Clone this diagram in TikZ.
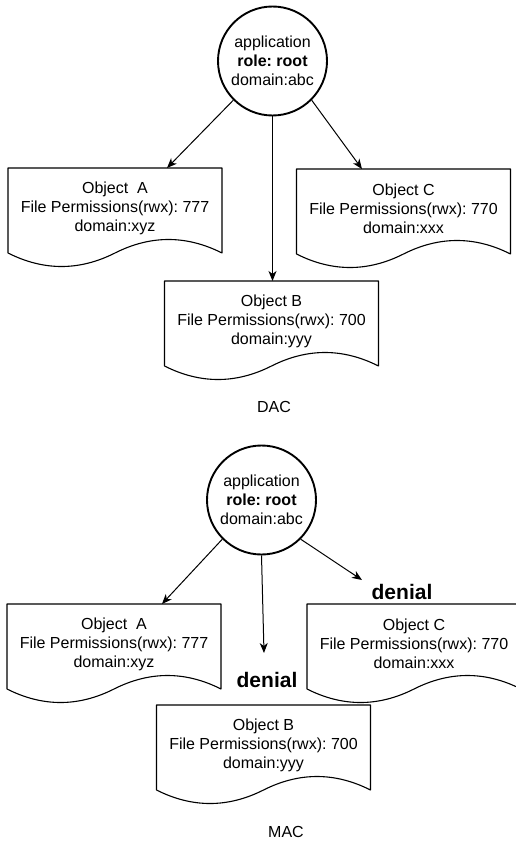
\documentclass[tikz,border=0pt]{standalone}
\usepackage{fontspec}
\setmainfont{Liberation Sans}
\usetikzlibrary{arrows.meta,calc}
\frenchspacing

\tikzset{
  txt/.style={font=\fontsize{16}{19}\selectfont, align=center, text=black},
  appnode/.style={circle, draw, line width=1.9pt, minimum size=109pt, inner sep=0pt, txt},
  objnode/.style={rectangle, minimum width=214pt, minimum height=80pt, inner sep=0pt,
                  outer sep=0pt, anchor=north, txt},
  docline/.style={line width=1.1pt, line join=round},
  arr/.style={line width=1pt, -{Stealth[length=10pt,width=8pt,inset=3pt]}},
  denialtxt/.style={font=\fontsize{21}{25}\selectfont\bfseries},
  captxt/.style={font=\fontsize{16}{19}\selectfont},
}

% outline of a "document" box: straight top and sides, wavy bottom
\newcommand\docoutline[1]{%
  \begin{scope}[shift={(#1.north west)}]
    \draw[docline] (0,0) -- (214,0) -- (214,85)
      .. controls (178.33,67) and (142.67,67) .. (107,85)
      .. controls (71.33,103) and (35.67,103) .. (0,85) -- cycle;
  \end{scope}}

\begin{document}
\begin{tikzpicture}[x=1pt, y=-1pt]
  \useasboundingbox (0,0) rectangle (516,843);
  \clip (0,0) rectangle (516,843);

  % ---------- DAC ----------
  \node[appnode] (app) at (272.5,61) {application\\\textbf{role: root}\\domain:abc};
  \node[objnode] (objA) at (115,168) {Object\ \ A\\File Permissions(rwx): 777\\domain:xyz};
  \node[objnode] (objC) at (403.5,169) {Object C\\File Permissions(rwx): 770\\domain:xxx};
  \node[objnode] (objB) at (271.5,281) {Object B\\File Permissions(rwx): 700\\domain:yyy};
  \docoutline{objA}
  \docoutline{objC}
  \docoutline{objB}
  \node[captxt] (dac) at (274,407) {DAC};

  \draw[arr] (app.south west) -- ($(objA.north west)!0.743!(objA.north east)$);
  \draw[arr] (app.south) -- (app.south |- objB.north);
  \draw[arr] (app.south east) -- ($(objC.north west)!0.306!(objC.north east)$);

  % ---------- MAC ----------
  \node[appnode] (app2) at (261.5,500) {application\\\textbf{role: root}\\domain:abc};
  \node[objnode] (objA2) at (114,604) {Object\ \ A\\File Permissions(rwx): 777\\domain:xyz};
  \node[objnode] (objC2) at (414,604) {Object C\\File Permissions(rwx): 770\\domain:xxx};
  \node[objnode] (objB2) at (263.5,705) {Object B\\File Permissions(rwx): 700\\domain:yyy};
  \docoutline{objA2}
  \docoutline{objC2}
  \docoutline{objB2}
  \node[denialtxt] (den1) at (402,592) {denial};
  \node[denialtxt] (den2) at (267,680) {denial};
  \node[captxt] (mac) at (286,832) {MAC};

  \coordinate (tipB2) at (264,653);
  \coordinate (tipC2) at (362,580);
  \draw[arr] (app2.south west) -- ($(objA2.north west)!0.724!(objA2.north east)$);
  \draw[arr] (app2.south) -- (tipB2);
  \draw[arr] (app2.south east) -- (tipC2);
\end{tikzpicture}
\end{document}
